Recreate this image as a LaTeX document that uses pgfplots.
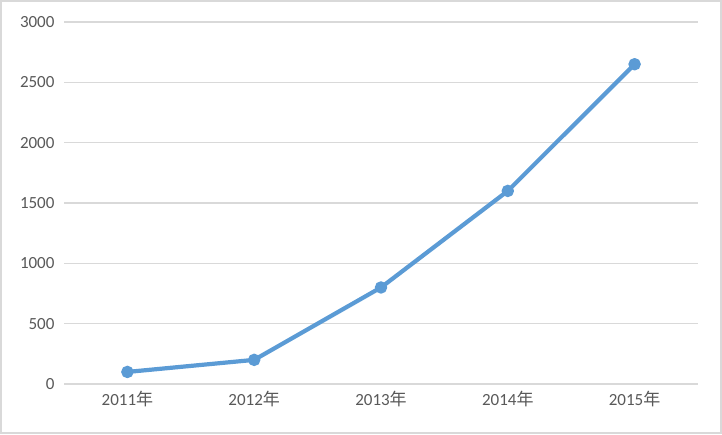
\documentclass[border=0pt]{standalone}
\usepackage{pgfplots}
\pgfplotsset{compat=1.18}
\usepackage{fontspec}
\setmainfont{Carlito}
\newfontfamily\cjk{Noto Sans CJK SC}
\definecolor{linec}{HTML}{5B9BD5}
\definecolor{gridc}{HTML}{D9D9D9}
\definecolor{txt}{HTML}{595959}
\begin{document}
\begin{tikzpicture}[x=1pt,y=1pt]
\useasboundingbox (0,0) rectangle (722,434);
\fill[white] (0,0) rectangle (722,434);
\draw[gridc, line width=2pt] (1,1) rectangle (721,433);
\begin{axis}[
  at={(64pt,50pt)}, anchor=south west,
  scale only axis, width=634pt, height=362pt,
  xmin=-0.5, xmax=4.5, ymin=0, ymax=3000,
  xtick={0,1,2,3,4},
  xticklabels={2011{\cjk 年},2012{\cjk 年},2013{\cjk 年},2014{\cjk 年},2015{\cjk 年}},
  ytick={0,500,1000,1500,2000,2500,3000},
  axis line style={draw=none},
  major tick length=0pt,
  ymajorgrids, grid style={gridc, line width=1.2pt},
  tick label style={font=\fontsize{17}{20}\selectfont, text=txt},
  yticklabel style={xshift=-6pt},
  xticklabel style={yshift=-4pt},
  /pgf/number format/assume math mode=true,
  /pgf/number format/1000 sep={},
  clip=false,
]
\addplot[linec, line width=4.2pt, line join=round, mark=*, mark size=5.5pt, mark options={solid, fill=linec, draw=linec, line width=1.5pt}] coordinates {(0,100)(1,200)(2,800)(3,1600)(4,2650)};
\end{axis}
\end{tikzpicture}
\end{document}
